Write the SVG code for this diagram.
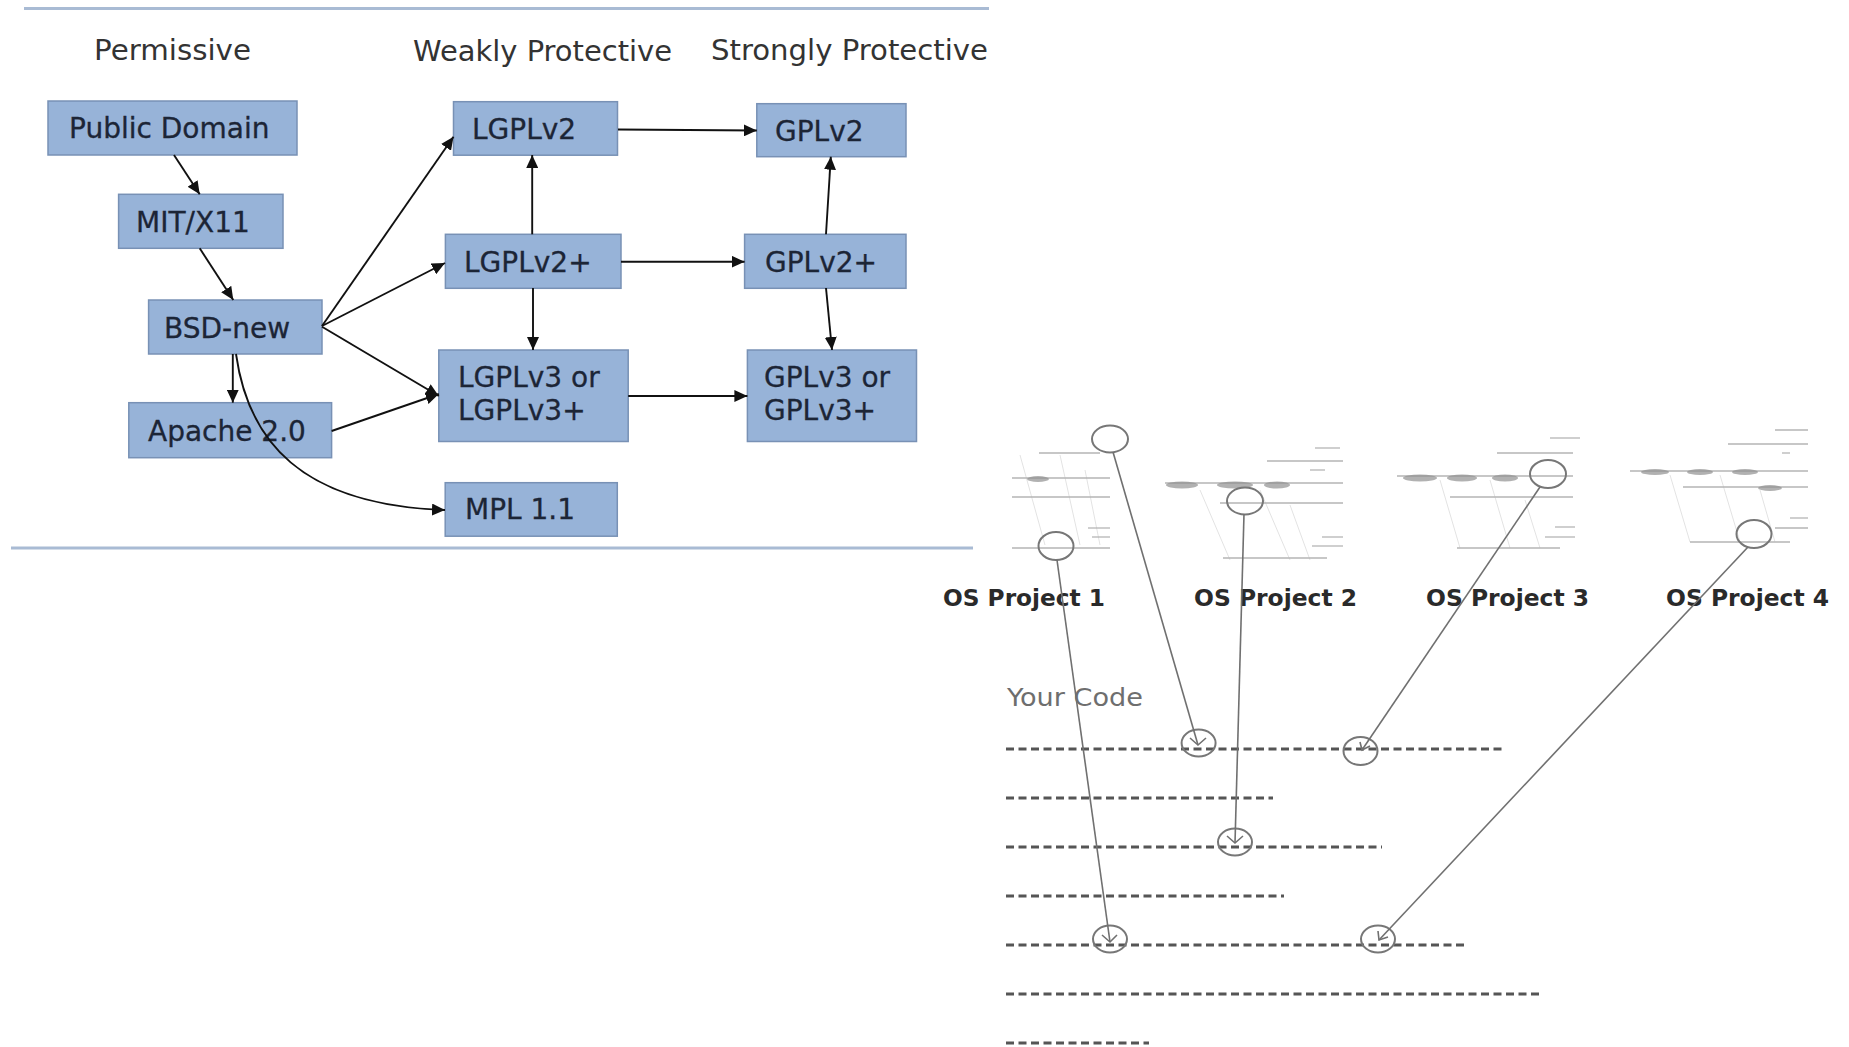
<svg xmlns="http://www.w3.org/2000/svg" width="1849" height="1047" viewBox="0 0 1849 1047">
<style>
.bg{fill:#ffffff}
.sep{stroke:#a9bbd4;stroke-width:3;fill:none}
.box{fill:#97b3d8;stroke:#7891b5;stroke-width:1.5}
.lbl{font-family:"DejaVu Sans",Verdana,sans-serif;font-size:28px;fill:#1c2536;stroke:#1c2536;stroke-width:0.3}
.title{font-family:"DejaVu Sans",Verdana,sans-serif;font-size:28px;fill:#333333}
.conn{stroke:#111111;stroke-width:1.9;fill:none;marker-end:url(#arr)}
.proj{font-family:"DejaVu Sans",Verdana,sans-serif;font-size:23px;font-weight:bold;fill:#2a2a2a}
.code{font-family:"DejaVu Sans",Verdana,sans-serif;font-size:25px;fill:#6e6e6e}
.dash{stroke:#555555;stroke-width:3;stroke-dasharray:8 4.5;fill:none}
.ring{stroke:#777777;stroke-width:2;fill:none}
.link{stroke:#707070;stroke-width:1.6;fill:none}
.th{stroke:#b5b5b5;stroke-width:1.3;fill:none}
.thf{stroke:#e3e3e3;stroke-width:1;fill:none}
.blob{fill:#909090;opacity:0.7}
</style>
<defs>
<marker id="arr" markerUnits="userSpaceOnUse" markerWidth="14" markerHeight="12" refX="13" refY="6" orient="auto">
<path d="M0,0 L13,6 L0,12 z" fill="#111111"/>
</marker>
</defs>
<rect class="bg" x="0" y="0" width="1849" height="1047"/>
<line class="sep" x1="24" y1="8.5" x2="989" y2="8.5"/>
<line class="sep" x1="11" y1="548" x2="973" y2="548"/>
<text class="title" x="94" y="60" textLength="157" lengthAdjust="spacingAndGlyphs">Permissive</text>
<text class="title" x="413" y="61" textLength="259" lengthAdjust="spacingAndGlyphs">Weakly Protective</text>
<text class="title" x="711" y="60" textLength="277" lengthAdjust="spacingAndGlyphs">Strongly Protective</text>

<g id="public-domain"><rect class="box" x="48" y="101" width="249" height="54"/><text class="lbl" x="69" y="138">Public Domain</text></g>
<g id="mit-x11"><rect class="box" x="118.6" y="194.3" width="164.4" height="54"/><text class="lbl" x="136" y="232">MIT/X11</text></g>
<g id="bsd-new"><rect class="box" x="148.6" y="300" width="173.4" height="54"/><text class="lbl" x="164" y="338">BSD-new</text></g>
<g id="apache"><rect class="box" x="128.8" y="402.7" width="202.8" height="55"/><text class="lbl" x="148" y="441">Apache 2.0</text></g>
<g id="lgplv2"><rect class="box" x="453.5" y="101.7" width="164" height="53.5"/><text class="lbl" x="472" y="139">LGPLv2</text></g>
<g id="lgplv2plus"><rect class="box" x="445.4" y="234.3" width="175.6" height="54"/><text class="lbl" x="464" y="272">LGPLv2+</text></g>
<g id="lgplv3"><rect class="box" x="438.8" y="350" width="189.4" height="91.5"/><text class="lbl" x="458" y="387">LGPLv3 or</text><text class="lbl" x="458" y="420">LGPLv3+</text></g>
<g id="mpl"><rect class="box" x="445.2" y="482.7" width="172.1" height="53.5"/><text class="lbl" x="465" y="519">MPL 1.1</text></g>
<g id="gplv2"><rect class="box" x="756.8" y="103.7" width="149.2" height="53"/><text class="lbl" x="775" y="141">GPLv2</text></g>
<g id="gplv2plus"><rect class="box" x="744.6" y="234.3" width="161.4" height="54"/><text class="lbl" x="765" y="272">GPLv2+</text></g>
<g id="gplv3"><rect class="box" x="747.4" y="350" width="169.1" height="91.5"/><text class="lbl" x="764" y="387">GPLv3 or</text><text class="lbl" x="764" y="420">GPLv3+</text></g>

<g id="connectors">
<line class="conn" x1="174" y1="155" x2="199.7" y2="194.3"/>
<line class="conn" x1="199.7" y1="248.3" x2="233.3" y2="300"/>
<line class="conn" x1="232.8" y1="354" x2="232.8" y2="402.7"/>
<line class="conn" x1="322" y1="326" x2="453.5" y2="136.7"/>
<line class="conn" x1="322" y1="326" x2="445" y2="263"/>
<line class="conn" x1="322" y1="326.7" x2="438.8" y2="396"/>
<line class="conn" x1="331.6" y1="431" x2="438.8" y2="394"/>
<path class="conn" d="M236,354 C248,440 300,505 445,510"/>
<line class="conn" x1="618" y1="129.5" x2="756.8" y2="130.5"/>
<line class="conn" x1="532.2" y1="234.3" x2="532.2" y2="155"/>
<line class="conn" x1="826" y1="234.3" x2="830.8" y2="156.7"/>
<line class="conn" x1="621" y1="261.7" x2="744.6" y2="261.7"/>
<line class="conn" x1="533" y1="288" x2="533" y2="350"/>
<line class="conn" x1="826" y1="288" x2="832" y2="350"/>
<line class="conn" x1="628.2" y1="396" x2="747.4" y2="396"/>
</g>

<g id="thumb1">
<line class="thf" x1="1020" y1="455" x2="1045" y2="545"/><line class="thf" x1="1060" y1="455" x2="1080" y2="545"/><line class="thf" x1="1085" y1="470" x2="1100" y2="545"/>
<line class="th" x1="1039" y1="453" x2="1100" y2="453"/>
<line class="th" x1="1012" y1="478" x2="1110" y2="478"/>
<ellipse class="blob" cx="1038" cy="479" rx="11" ry="3"/>
<line class="th" x1="1012" y1="497" x2="1110" y2="497"/>
<line class="th" x1="1088" y1="528" x2="1110" y2="528"/>
<line class="th" x1="1092" y1="537" x2="1110" y2="537"/>
<line class="th" x1="1012" y1="548" x2="1110" y2="548"/>
</g>
<g id="thumb2">
<line class="thf" x1="1200" y1="490" x2="1230" y2="560"/><line class="thf" x1="1260" y1="490" x2="1290" y2="560"/><line class="thf" x1="1290" y1="505" x2="1310" y2="560"/>
<line class="th" x1="1315" y1="448" x2="1340" y2="448"/>
<line class="th" x1="1267" y1="461" x2="1343" y2="461"/>
<line class="th" x1="1310" y1="470" x2="1325" y2="470"/>
<line class="th" x1="1165" y1="483" x2="1343" y2="483"/>
<ellipse class="blob" cx="1182" cy="485" rx="16" ry="3.5"/>
<ellipse class="blob" cx="1235" cy="485" rx="18" ry="3.5"/>
<ellipse class="blob" cx="1277" cy="485" rx="13" ry="3.5"/>
<line class="th" x1="1220" y1="503" x2="1343" y2="503"/>
<line class="th" x1="1322" y1="537" x2="1343" y2="537"/>
<line class="th" x1="1312" y1="546" x2="1343" y2="546"/>
<line class="th" x1="1223" y1="558" x2="1327" y2="558"/>
</g>
<g id="thumb3">
<line class="thf" x1="1440" y1="480" x2="1460" y2="548"/><line class="thf" x1="1490" y1="480" x2="1510" y2="548"/><line class="thf" x1="1525" y1="500" x2="1540" y2="548"/>
<line class="th" x1="1550" y1="438" x2="1580" y2="438"/>
<line class="th" x1="1497" y1="453" x2="1573" y2="453"/>
<line class="th" x1="1397" y1="476" x2="1573" y2="476"/>
<ellipse class="blob" cx="1420" cy="478" rx="17" ry="3.5"/>
<ellipse class="blob" cx="1462" cy="478" rx="15" ry="3.5"/>
<ellipse class="blob" cx="1505" cy="478" rx="13" ry="3.5"/>
<line class="th" x1="1450" y1="497" x2="1573" y2="497"/>
<line class="th" x1="1555" y1="527" x2="1575" y2="527"/>
<line class="th" x1="1545" y1="537" x2="1575" y2="537"/>
<line class="th" x1="1457" y1="548" x2="1560" y2="548"/>
</g>
<g id="thumb4">
<line class="thf" x1="1670" y1="475" x2="1690" y2="542"/><line class="thf" x1="1720" y1="475" x2="1740" y2="542"/><line class="thf" x1="1760" y1="490" x2="1775" y2="542"/>
<line class="th" x1="1775" y1="430" x2="1808" y2="430"/>
<line class="th" x1="1728" y1="444" x2="1808" y2="444"/>
<line class="th" x1="1782" y1="453" x2="1790" y2="453"/>
<line class="th" x1="1630" y1="471" x2="1808" y2="471"/>
<ellipse class="blob" cx="1655" cy="472" rx="14" ry="3"/>
<ellipse class="blob" cx="1700" cy="472" rx="13" ry="3"/>
<ellipse class="blob" cx="1745" cy="472" rx="13" ry="3"/>
<line class="th" x1="1683" y1="487" x2="1808" y2="487"/>
<ellipse class="blob" cx="1770" cy="488" rx="12" ry="3"/>
<line class="th" x1="1790" y1="518" x2="1808" y2="518"/>
<line class="th" x1="1775" y1="528" x2="1808" y2="528"/>
<line class="th" x1="1690" y1="542" x2="1790" y2="542"/>
</g>

<g id="project-labels">
<text class="proj" x="943" y="606" textLength="162" lengthAdjust="spacingAndGlyphs">OS Project 1</text>
<text class="proj" x="1194" y="606" textLength="163" lengthAdjust="spacingAndGlyphs">OS Project 2</text>
<text class="proj" x="1426" y="606" textLength="163" lengthAdjust="spacingAndGlyphs">OS Project 3</text>
<text class="proj" x="1666" y="606" textLength="163" lengthAdjust="spacingAndGlyphs">OS Project 4</text>
</g>

<g id="your-code">
<text class="code" x="1007" y="706" textLength="136" lengthAdjust="spacingAndGlyphs">Your Code</text>
<line class="dash" x1="1006" y1="749" x2="1503" y2="749"/>
<line class="dash" x1="1006" y1="798" x2="1273" y2="798"/>
<line class="dash" x1="1006" y1="847" x2="1382" y2="847"/>
<line class="dash" x1="1006" y1="896" x2="1284" y2="896"/>
<line class="dash" x1="1006" y1="945" x2="1466" y2="945"/>
<line class="dash" x1="1006" y1="994" x2="1539" y2="994"/>
<line class="dash" x1="1006" y1="1043" x2="1149" y2="1043"/>
</g>

<g id="mapping">
<ellipse class="ring" cx="1110" cy="439" rx="18" ry="13.5"/>
<ellipse class="ring" cx="1056" cy="546" rx="17.5" ry="14"/>
<ellipse class="ring" cx="1245" cy="501" rx="18" ry="13.5"/>
<ellipse class="ring" cx="1548" cy="474" rx="18" ry="14"/>
<ellipse class="ring" cx="1754" cy="534" rx="17.5" ry="14"/>
<ellipse class="ring" cx="1198.6" cy="743" rx="17" ry="13.5"/>
<ellipse class="ring" cx="1360.5" cy="751" rx="17" ry="14"/>
<ellipse class="ring" cx="1235" cy="842" rx="17" ry="13.5"/>
<ellipse class="ring" cx="1110" cy="939" rx="17" ry="13.5"/>
<ellipse class="ring" cx="1378" cy="939" rx="17" ry="13.5"/>
<line class="link" x1="1113" y1="452" x2="1198" y2="745"/>
<line class="link" x1="1057" y1="560" x2="1110" y2="942"/>
<line class="link" x1="1244" y1="514" x2="1235" y2="843"/>
<line class="link" x1="1540" y1="487" x2="1362" y2="750"/>
<line class="link" x1="1748" y1="547" x2="1379" y2="940"/>
<path class="link" d="M1190,738 L1198,745 L1206,738"/>
<path class="link" d="M1227,836 L1235,843 L1243,836"/>
<path class="link" d="M1102,935 L1110,942 L1117,935"/>
<path class="link" d="M1360,742 L1362,750 L1370,746"/>
<path class="link" d="M1378,931 L1379,940 L1388,937"/>
</g>
</svg>
